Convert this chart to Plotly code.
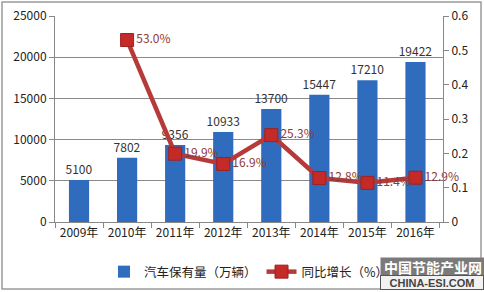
import plotly.graph_objects as go

years = ["2009年", "2010年", "2011年", "2012年", "2013年", "2014年", "2015年", "2016年"]
stock = [5100, 7802, 9356, 10933, 13700, 15447, 17210, 19422]
growth_years = ["2010年", "2011年", "2012年", "2013年", "2014年", "2015年", "2016年"]
growth = [0.530, 0.199, 0.169, 0.253, 0.128, 0.114, 0.129]
growth_labels = ["53.0%", "19.9%", "16.9%", "25.3%", "12.8%", "11.4%", "12.9%"]

FONT = "Noto Sans CJK SC"
W, H = 484, 292
L, R, T, B = 55, 41, 16, 70
pw, ph = W - L - R, H - T - B

fig = go.Figure()
fig.add_trace(go.Bar(
    x=years, y=stock, name="汽车保有量（万辆）",
    marker=dict(color="#2F6CBE", line=dict(width=0)),
    width=0.42,
    text=[str(v) for v in stock], textposition="outside",
    constraintext="none",
    textfont=dict(size=12, color="#333333", family=FONT),
    cliponaxis=False,
))
fig.add_trace(go.Scatter(
    x=growth_years, y=growth, name="同比增长（%）", yaxis="y2",
    mode="lines+markers+text",
    line=dict(color="#B63A3A", width=4.5),
    marker=dict(symbol="square", size=13, color="#C42A28", line=dict(color="#A02020", width=1)),
    text=growth_labels, textposition="middle right",
    textfont=dict(size=12, color="#8E3A36", family=FONT),
    cliponaxis=False,
))

fig.update_layout(
    width=W, height=H,
    margin=dict(l=L, r=R, t=T, b=B, autoexpand=False),
    paper_bgcolor="white", plot_bgcolor="white",
    font=dict(family=FONT, size=12, color="#222222"),
    showlegend=True,
    legend=dict(orientation="h", x=0.5, xanchor="center", y=-0.17, yanchor="top",
                font=dict(size=12.5, family=FONT, color="#222222"),
                itemwidth=30, bgcolor="rgba(0,0,0,0)"),
    xaxis=dict(
        type="category", tickson="boundaries", ticks="outside", ticklen=5,
        tickcolor="#888888", showline=True, linecolor="#888888", linewidth=1,
        tickfont=dict(size=12, family=FONT, color="#222222"),
        showgrid=False,
    ),
    yaxis=dict(
        range=[0, 25000], dtick=5000, tickformat="d", ticks="outside", ticklen=5,
        tickcolor="#888888",
        showline=True, linecolor="#888888", linewidth=1,
        showgrid=True, gridcolor="#8A8A8A", gridwidth=1,
        tickfont=dict(size=12, family=FONT, color="#222222"),
        zeroline=False,
    ),
    yaxis2=dict(
        range=[0, 0.6], overlaying="y", side="right",
        ticks="outside", ticklen=5, tickcolor="#888888",
        showline=True, linecolor="#888888", linewidth=1, showgrid=False,
        tickvals=[0, 0.1, 0.2, 0.3, 0.4, 0.5, 0.6],
        ticktext=["0", "0.1", "0.2", "0.3", "0.4", "0.5", "0.6"],
        tickfont=dict(size=12, family=FONT, color="#222222"),
        zeroline=False,
    ),
)

def px(x):
    return (x - L) / pw

def py(y):
    return (H - B - y) / ph

# outer frame
fig.add_shape(type="rect", xref="paper", yref="paper",
              x0=px(2), x1=px(481), y0=py(2), y1=py(289),
              line=dict(color="#9A9A9A", width=1.5), layer="above")

# logo box bottom-right (as annotations with backgrounds)
fig.add_annotation(xref="paper", yref="paper", x=px(380), y=py(257),
                   xanchor="left", yanchor="top",
                   width=104, height=17, bgcolor="#7A7A7A", borderpad=0,
                   text="<b>中国节能产业网</b>", showarrow=False, align="center",
                   font=dict(size=14, color="white", family=FONT))
fig.add_annotation(xref="paper", yref="paper", x=px(380), y=py(275),
                   xanchor="left", yanchor="top",
                   width=102, height=13, bgcolor="#F2F2F2", bordercolor="#555555",
                   borderwidth=1, borderpad=0,
                   text="<b>CHINA-ESI.COM</b>", showarrow=False, align="center",
                   font=dict(size=11, color="#444444", family="Liberation Sans"))

fig.write_html("out.html")
